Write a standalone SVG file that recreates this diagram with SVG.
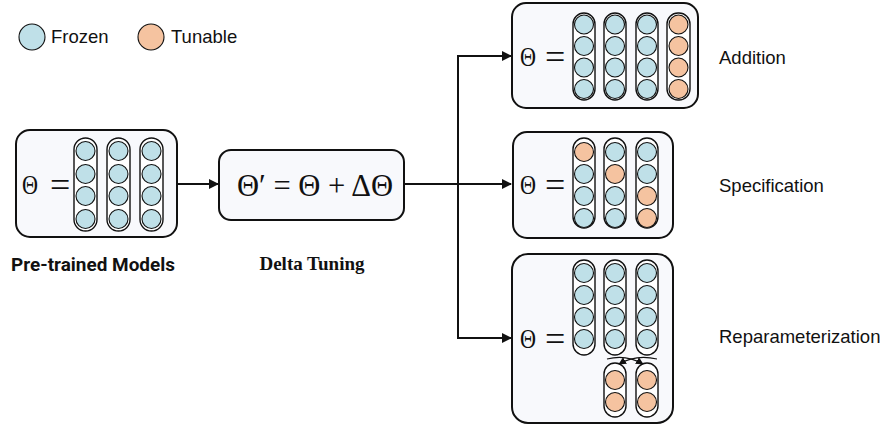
<svg xmlns="http://www.w3.org/2000/svg" width="890" height="426" viewBox="0 0 890 426">
<defs>
<style>
.box{fill:#f8f9fc;stroke:#111;stroke-width:2}
.pill{fill:#fff;stroke:#111;stroke-width:1.4}
.fz{fill:#bfe0e8;stroke:#111;stroke-width:1.1}
.tn{fill:#f5c3a0;stroke:#111;stroke-width:1.1}
.th{font-family:"Liberation Serif","DejaVu Serif",serif;font-size:28px;fill:#111}
.eq{font-family:"Liberation Serif",serif;font-size:36px;fill:#111}
.lbl{font-family:"Liberation Sans",Arial,sans-serif;font-size:18.5px;fill:#111}
.bl{font-family:Roboto,"Noto Sans",sans-serif;font-weight:700;font-size:18.5px;fill:#111}
.conn{fill:none;stroke:#111;stroke-width:2}
</style>
<marker id="ah" viewBox="0 0 10 10" refX="9" refY="5" markerWidth="5" markerHeight="5" orient="auto" markerUnits="strokeWidth">
<path d="M0,0 L10,5 L0,10 z" fill="#111"/>
</marker>
<marker id="ahs" viewBox="0 0 10 10" refX="9" refY="5" markerWidth="7" markerHeight="7" orient="auto" markerUnits="strokeWidth">
<path d="M0,0 L10,5 L0,10 z" fill="#111"/>
</marker>
</defs>

<g id="legend">
<circle cx="32" cy="37" r="13" class="fz"/>
<text x="51" y="43" class="lbl" font-size="19.5">Frozen</text>
<circle cx="151" cy="37" r="13" class="tn"/>
<text x="171" y="43" class="lbl" font-size="19.5">Tunable</text>
</g>

<g id="pretrained">
<rect x="16" y="130" width="161" height="107" rx="14" class="box"/>
<text x="22" y="194" class="th" textLength="16" lengthAdjust="spacingAndGlyphs">Θ</text>
<text x="50" y="197" class="eq">=</text>
<rect x="74" y="138" width="23" height="93" rx="11.5" class="pill"/>
<rect x="107" y="138" width="23" height="93" rx="11.5" class="pill"/>
<rect x="140" y="138" width="23" height="93" rx="11.5" class="pill"/>
<circle cx="85.5" cy="151" r="9.5" class="fz"/><circle cx="85.5" cy="174" r="9.5" class="fz"/><circle cx="85.5" cy="196" r="9.5" class="fz"/><circle cx="85.5" cy="219" r="9.5" class="fz"/>
<circle cx="118.5" cy="151" r="9.5" class="fz"/><circle cx="118.5" cy="174" r="9.5" class="fz"/><circle cx="118.5" cy="196" r="9.5" class="fz"/><circle cx="118.5" cy="219" r="9.5" class="fz"/>
<circle cx="151.5" cy="151" r="9.5" class="fz"/><circle cx="151.5" cy="174" r="9.5" class="fz"/><circle cx="151.5" cy="196" r="9.5" class="fz"/><circle cx="151.5" cy="219" r="9.5" class="fz"/>
<text x="93" y="271" text-anchor="middle" class="bl" textLength="164" lengthAdjust="spacingAndGlyphs">Pre-trained Models</text>
</g>

<g id="delta">
<rect x="219" y="150" width="185" height="70" rx="12" class="box"/>
<text x="237" y="196" font-family="Liberation Serif,serif" font-size="32" fill="#111" textLength="156" lengthAdjust="spacingAndGlyphs">Θ′ = Θ + ΔΘ</text>
<text x="312" y="270" text-anchor="middle" font-family="Liberation Serif,serif" font-weight="bold" font-size="19" fill="#111">Delta Tuning</text>
</g>

<g id="addition">
<rect x="512" y="3" width="186" height="105" rx="14" class="box"/>
<text x="520" y="66" class="th" textLength="16" lengthAdjust="spacingAndGlyphs">Θ</text>
<text x="545" y="69" class="eq">=</text>
<rect x="573" y="13" width="22" height="87" rx="11" class="pill"/>
<rect x="604" y="13" width="22" height="87" rx="11" class="pill"/>
<rect x="636" y="13" width="22" height="87" rx="11" class="pill"/>
<rect x="667" y="13" width="23" height="87" rx="11" class="pill"/>
<circle cx="584" cy="24.5" r="9.5" class="fz"/><circle cx="584" cy="46" r="9.5" class="fz"/><circle cx="584" cy="67.5" r="9.5" class="fz"/><circle cx="584" cy="89" r="9.5" class="fz"/>
<circle cx="615" cy="24.5" r="9.5" class="fz"/><circle cx="615" cy="46" r="9.5" class="fz"/><circle cx="615" cy="67.5" r="9.5" class="fz"/><circle cx="615" cy="89" r="9.5" class="fz"/>
<circle cx="647" cy="24.5" r="9.5" class="fz"/><circle cx="647" cy="46" r="9.5" class="fz"/><circle cx="647" cy="67.5" r="9.5" class="fz"/><circle cx="647" cy="89" r="9.5" class="fz"/>
<circle cx="678.5" cy="24.5" r="9.5" class="tn"/><circle cx="678.5" cy="46" r="9.5" class="tn"/><circle cx="678.5" cy="67.5" r="9.5" class="tn"/><circle cx="678.5" cy="89" r="9.5" class="tn"/>
<text x="719" y="64" class="lbl">Addition</text>
</g>

<g id="specification">
<rect x="513" y="132" width="160" height="106" rx="14" class="box"/>
<text x="520" y="194" class="th" textLength="16" lengthAdjust="spacingAndGlyphs">Θ</text>
<text x="545" y="197" class="eq">=</text>
<rect x="573" y="138" width="22" height="90" rx="11" class="pill"/>
<rect x="604" y="138" width="22" height="90" rx="11" class="pill"/>
<rect x="636" y="138" width="22" height="90" rx="11" class="pill"/>
<circle cx="584" cy="152" r="9.5" class="tn"/><circle cx="584" cy="174" r="9.5" class="fz"/><circle cx="584" cy="196" r="9.5" class="fz"/><circle cx="584" cy="218" r="9.5" class="fz"/>
<circle cx="615" cy="152" r="9.5" class="fz"/><circle cx="615" cy="174" r="9.5" class="tn"/><circle cx="615" cy="196" r="9.5" class="fz"/><circle cx="615" cy="218" r="9.5" class="fz"/>
<circle cx="647" cy="152" r="9.5" class="fz"/><circle cx="647" cy="174" r="9.5" class="fz"/><circle cx="647" cy="196" r="9.5" class="tn"/><circle cx="647" cy="218" r="9.5" class="tn"/>
<text x="719" y="192" class="lbl">Specification</text>
</g>

<g id="reparameterization">
<rect x="512" y="254" width="161" height="169" rx="16" class="box"/>
<text x="520" y="348" class="th" textLength="16" lengthAdjust="spacingAndGlyphs">Θ</text>
<text x="545" y="351" class="eq">=</text>
<rect x="573" y="260" width="22" height="95" rx="11" class="pill"/>
<rect x="604" y="260" width="22" height="95" rx="11" class="pill"/>
<rect x="636" y="260" width="22" height="95" rx="11" class="pill"/>
<circle cx="584" cy="273" r="9.5" class="fz"/><circle cx="584" cy="295" r="9.5" class="fz"/><circle cx="584" cy="317" r="9.5" class="fz"/><circle cx="584" cy="339" r="9.5" class="fz"/>
<circle cx="615" cy="273" r="9.5" class="fz"/><circle cx="615" cy="295" r="9.5" class="fz"/><circle cx="615" cy="317" r="9.5" class="fz"/><circle cx="615" cy="339" r="9.5" class="fz"/>
<circle cx="647" cy="273" r="9.5" class="fz"/><circle cx="647" cy="295" r="9.5" class="fz"/><circle cx="647" cy="317" r="9.5" class="fz"/><circle cx="647" cy="339" r="9.5" class="fz"/>
<rect x="604" y="363" width="22" height="54" rx="11" class="pill"/>
<rect x="636" y="363" width="22" height="54" rx="11" class="pill"/>
<circle cx="615" cy="380" r="9.5" class="tn"/><circle cx="615" cy="402" r="9.5" class="tn"/>
<circle cx="647" cy="380" r="9.5" class="tn"/><circle cx="647" cy="402" r="9.5" class="tn"/>
<path d="M607,359 Q626,354 643,364" fill="none" stroke="#111" stroke-width="1.1" marker-end="url(#ahs)"/>
<path d="M657,359 Q636,354 619,364" fill="none" stroke="#111" stroke-width="1.1" marker-end="url(#ahs)"/>
<text x="719" y="343" class="lbl">Reparameterization</text>
</g>

<g id="connectors">
<line x1="177" y1="184" x2="218" y2="184" class="conn" marker-end="url(#ah)"/>
<line x1="404" y1="184" x2="511" y2="184" class="conn" marker-end="url(#ah)"/>
<line x1="458" y1="56" x2="458" y2="339" class="conn"/>
<polyline points="457,56 511,56" class="conn" marker-end="url(#ah)"/>
<polyline points="457,338 511,338" class="conn" marker-end="url(#ah)"/>
</g>
</svg>
